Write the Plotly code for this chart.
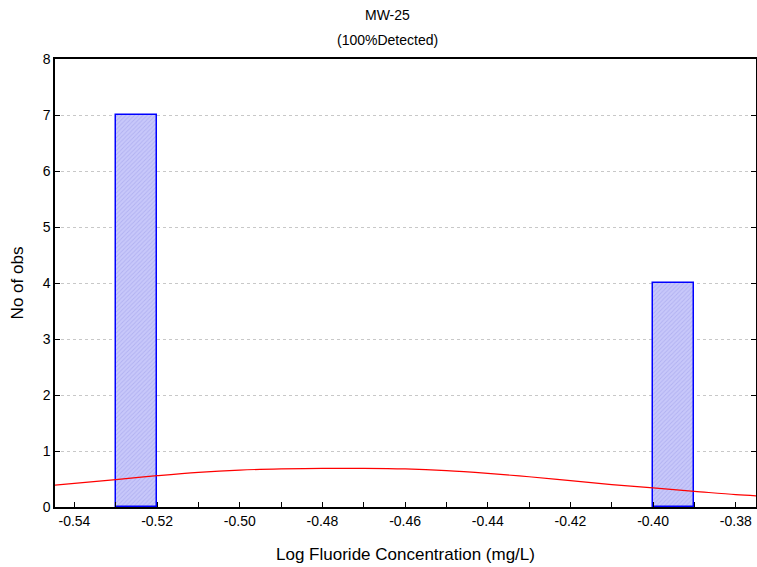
import plotly.graph_objects as go

# Histogram data
bin_centers = [-0.525, -0.395]
counts = [7, 4]
bin_width = 0.01

# Fitted normal curve (expected counts)
curve_x = [-0.5447, -0.53, -0.52, -0.51, -0.50, -0.49, -0.48, -0.47, -0.46,
           -0.45, -0.44, -0.43, -0.42, -0.41, -0.40, -0.39, -0.38, -0.375]
curve_y = [0.39, 0.49, 0.56, 0.62, 0.66, 0.68, 0.69, 0.69, 0.68,
           0.65, 0.60, 0.54, 0.47, 0.40, 0.34, 0.28, 0.22, 0.20]

x_ticks = [-0.54, -0.52, -0.50, -0.48, -0.46, -0.44, -0.42, -0.40, -0.38]
x_tick_labels = ["-0.54", "-0.52", "-0.50", "-0.48", "-0.46", "-0.44", "-0.42", "-0.40", "-0.38"]
y_ticks = [0, 1, 2, 3, 4, 5, 6, 7, 8]
title_lines = ["MW-25", "(100%Detected)"]

fig = go.Figure()
fig.add_trace(go.Bar(
    x=bin_centers, y=counts, width=bin_width,
    marker=dict(color="#c8c8fa", line=dict(color="#0000ff", width=1.5),
                pattern=dict(shape="/", fgcolor="#9a9ae8", bgcolor="#c8c8fa", size=3, solidity=0.3)),
    showlegend=False,
))
fig.add_trace(go.Scatter(
    x=curve_x, y=curve_y, mode="lines", line=dict(color="#ff0000", width=1.2, shape="spline"),
    showlegend=False,
))

font = dict(family="Liberation Sans, Arial, sans-serif", size=14, color="#000000")
fig.update_layout(
    width=757, height=567,
    margin=dict(l=55, r=1, t=59, b=60, autoexpand=False),
    paper_bgcolor="white", plot_bgcolor="white",
    font=font,
    bargap=0,
    xaxis=dict(range=[-0.5447, -0.3751], tickvals=x_ticks, ticktext=x_tick_labels, automargin=False,
               ticks="inside", ticklen=5, tickcolor="black", showline=True, linecolor="black",
               linewidth=1.5, mirror=True, showgrid=False, zeroline=False,
               minor=dict(dtick=0.01, tick0=-0.54, ticks="inside", ticklen=5, tickcolor="black"),
               title=dict(text="Log Fluoride Concentration (mg/L)", standoff=21)),
    yaxis=dict(range=[0, 8], tickvals=y_ticks, ticks="inside", ticklen=5, tickcolor="black", automargin=False,
               showline=True, linecolor="black", linewidth=1.5, mirror="ticks",
               showgrid=True, gridcolor="#c8c8c8", griddash="dot", gridwidth=1, zeroline=False,
               title=dict(text="No of obs", standoff=15)),
)
fig.add_annotation(text=title_lines[0], xref="paper", yref="paper", x=0.475, y=1.098,
                   xanchor="center", yanchor="middle", showarrow=False, font=dict(size=14))
fig.add_annotation(text=title_lines[1], xref="paper", yref="paper", x=0.475, y=1.0424,
                   xanchor="center", yanchor="middle", showarrow=False, font=dict(size=14))
fig.write_html("out.html", config={"displayModeBar": False},
               post_script="document.body.style.margin='0';document.body.style.overflow='hidden';")
